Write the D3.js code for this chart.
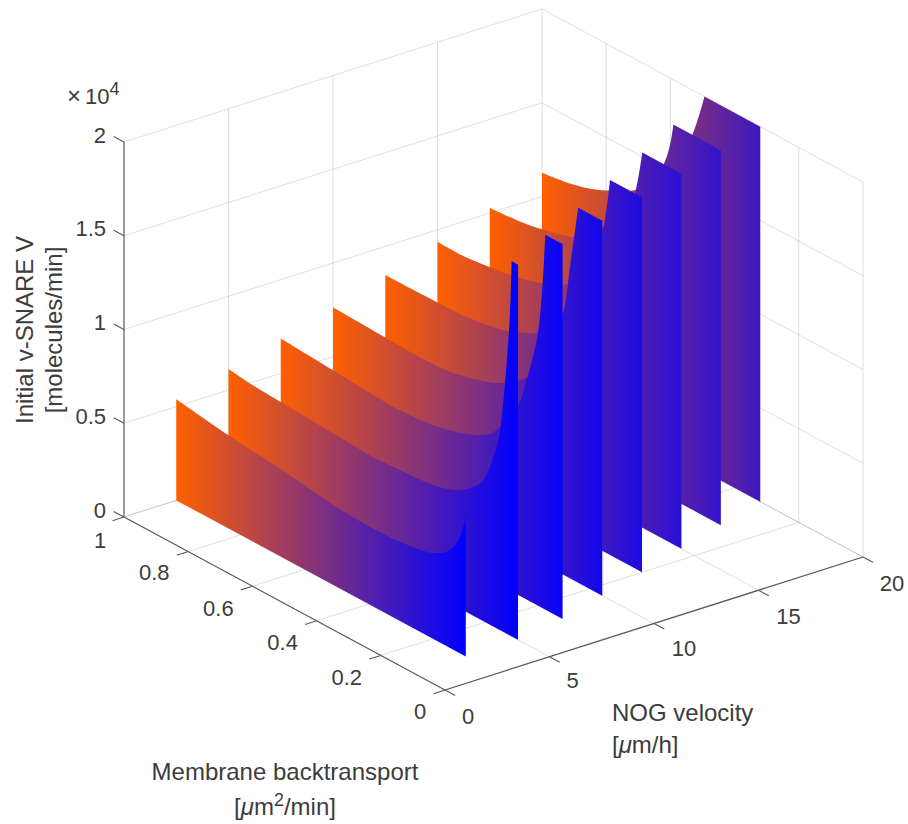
<!DOCTYPE html>
<html>
<head>
<meta charset="utf-8">
<style>html,body{margin:0;padding:0;background:#fff}svg{display:block}text{font-family:"Liberation Sans",Arial,sans-serif;fill:#3c3c3c}</style>
<script src="https://cdn.jsdelivr.net/npm/d3@7"></script>
</head>
<body>
<svg id="chart" width="908" height="824"></svg>
<script>
// NOG velocity of each sheet
const velocities = [2.5, 5, 7.5, 10, 12.5, 15, 17.5, 20];
// Membrane backtransport at each sample, per sheet
const membrane1 = [1, .838, .718, .6145, .511, .407, .303, .199, .147, .116, .098];
const membrane2 = [1, .933, .777, .6735, .5695, .466, .362, .2997, .2477, .206, .1645, .154, .1386, .123, .118];
const membrane3 = [1, .838, .722, .618, .514, .4104, .358, .327, .26, .234, .2026, .187, .176];
const membrane4 = [1, .838, .729, .625, .521, .469, .3916, .33, .2826, .2617, .236];
const membrane5 = [1, .838, .736, .632, .57, .528, .45, .38, .324, .3];
const membrane6 = [1, .9196, .8374, .769, .681, .608, .5, .43, .3825, .362];
const membrane7 = [1, .916, .837, .771, .7345, .6, .457, .428];
const membrane8 = [1, .913, .84, .788, .71, .6, .532, .494];
// Initial v-SNARE V (x 10^4), per sheet, cut at the axis limit
const vsnare1 = [.54, .498, .476, .454, .427, .416, .423, .459, .523, .622, .742];
const vsnare2 = [.612, .597, .581, .57, .559, .566, .582, .613, .67, .753, .969, 1.067, 1.33, 1.72, 2];
const vsnare3 = [.686, .667, .652, .646, .665, .718, .766, .819, 1.014, 1.171, 1.413, 1.659, 2];
const vsnare4 = [.764, .753, .746, .759, .809, .851, .955, 1.14, 1.394, 1.661, 2];
const vsnare5 = [.847, .851, .86, .894, .937, .975, 1.15, 1.38, 1.694, 2];
const vsnare6 = [.936, .934, .951, .969, 1.011, 1.067, 1.25, 1.5, 1.78, 2];
const vsnare7 = [1.029, 1.04, 1.064, 1.094, 1.119, 1.35, 1.766, 2];
const vsnare8 = [1.127, 1.15, 1.186, 1.227, 1.302, 1.5, 1.76, 2];
// Where each sheet ends on the membrane axis
const membraneEnd = [.098, .098, .122, .161, .2, .24, .28, .32];
const membraneSeries = [membrane1, membrane2, membrane3, membrane4, membrane5, membrane6, membrane7, membrane8];
const vsnareSeries = [vsnare1, vsnare2, vsnare3, vsnare4, vsnare5, vsnare6, vsnare7, vsnare8];
// Ticks
const xTicks = [0, 5, 10, 15, 20];
const yTicks = [0, .2, .4, .6, .8, 1];
const zTicks = [0, .5, 1, 1.5, 2];

const svg = d3.select("#chart");
const defs = svg.append("defs");

// Orthographic projection built from linear scales
const xToPx = d3.scaleLinear([0, 20], [0, 418]);
const xToPy = d3.scaleLinear([0, 20], [0, -133]);
const yToPx = d3.scaleLinear([0, 1], [0, -321]);
const yToPy = d3.scaleLinear([0, 1], [0, -173]);
const zToPy = d3.scaleLinear([0, 2], [0, -375]);
const X0 = 445, Y0 = 690;
const px = (x, y) => X0 + xToPx(x) + yToPx(y);
const py = (x, y, z) => Y0 + xToPy(x) + yToPy(y) + zToPy(z);

const grid = svg.append("g").attr("fill", "none").attr("stroke", "rgb(38,38,38)").attr("stroke-opacity", .15).attr("stroke-width", 1);
const seg = (g, a, b) => g.append("line")
  .attr("x1", px(a[0], a[1])).attr("y1", py(a[0], a[1], a[2]))
  .attr("x2", px(b[0], b[1])).attr("y2", py(b[0], b[1], b[2]));

xTicks.forEach(x => {
  seg(grid, [x, 0, 0], [x, 1, 0]);
  if (x > 0) seg(grid, [x, 1, 0], [x, 1, 2]);
});
yTicks.forEach(y => {
  seg(grid, [0, y, 0], [20, y, 0]);
  if (y < 1) seg(grid, [20, y, 0], [20, y, 2]);
});
zTicks.forEach(z => {
  seg(grid, [0, 1, z], [20, 1, z]);
  seg(grid, [20, 1, z], [20, 0, z]);
});

// Sheets, back to front
const curve = d3.line().x(d => d[0]).y(d => d[1]).curve(d3.curveCatmullRom.alpha(.5));
const sheets = svg.append("g");
d3.range(velocities.length - 1, -1, -1).forEach(i => {
  const X = velocities[i], ys = membraneSeries[i], zs = vsnareSeries[i], yEnd = membraneEnd[i];
  const gid = "grad" + i;
  const gr = defs.append("linearGradient").attr("id", gid).attr("gradientUnits", "userSpaceOnUse")
    .attr("x1", px(X, 1)).attr("y1", 0).attr("x2", px(X, .098)).attr("y2", 0);
  gr.append("stop").attr("offset", 0).attr("stop-color", "#ff6000");
  gr.append("stop").attr("offset", 1).attr("stop-color", "#0000ff");
  const top = ys.map((y, k) => [px(X, y), py(X, y, zs[k])]);
  let d = curve(top);
  const last = zs[zs.length - 1];
  d += "L" + px(X, yEnd) + "," + py(X, yEnd, last);
  d += "L" + px(X, yEnd) + "," + py(X, yEnd, 0);
  d += "L" + px(X, ys[0]) + "," + py(X, ys[0], 0) + "Z";
  sheets.append("path").attr("d", d).attr("fill", "url(#" + gid + ")");
});

// Axis lines
const axes = svg.append("g").attr("fill", "none");
const ax = axes.append("g").attr("stroke", "#5a5a5a").attr("stroke-width", 1.2);
seg(ax, [0, 0, 0], [20, 0, 0]);
seg(ax, [0, 0, 0], [0, 1, 0]);
const az = axes.append("g").attr("stroke", "#808080").attr("stroke-width", 1.6);
seg(az, [0, 1, 0], [0, 1, 2]);
const tk = axes.append("g").attr("stroke", "#5a5a5a").attr("stroke-width", 1.1);
xTicks.forEach(x => seg(tk, [x, 0, 0], [x, -.032, 0]));
yTicks.forEach(y => seg(tk, [0, y, 0], [-.55, y, 0]));
zTicks.forEach(z => seg(tk, [0, 1, z], [0, 1.032, z]));

// Tick labels
const labels = svg.append("g").attr("font-size", 22);
xTicks.forEach((x, i) => labels.append("text").text(x)
  .attr("x", px(x, 0) + [23, 23, 30, 30, 29][i]).attr("y", py(x, 0, 0) + [26, 24, 25, 26, 26][i])
  .attr("dy", ".35em").attr("text-anchor", "middle"));
yTicks.forEach((y, i) => labels.append("text").text(y)
  .attr("x", px(0, y) + [-25, -34, -34, -34, -34, -24][i]).attr("y", py(0, y, 0) + [21, 22, 21, 22, 21, 23][i])
  .attr("dy", ".35em").attr("text-anchor", "middle"));
zTicks.forEach(z => labels.append("text").text(z)
  .attr("x", px(0, 1) - 18).attr("y", py(0, 1, z) - 7)
  .attr("dy", ".35em").attr("text-anchor", "end"));

// Multiplier
svg.append("text").attr("x", 67).attr("y", 104).attr("font-size", 24).text("×");
const mult = svg.append("text").attr("x", 85).attr("y", 104).attr("font-size", 22);
mult.append("tspan").text("10");
mult.append("tspan").text("4").attr("font-size", 18).attr("dy", -9);

// Axis titles
const titles = svg.append("g").attr("font-size", 24);
const mu = s => s.append("tspan").text("μ").attr("font-style", "italic");
titles.append("text").attr("x", 612).attr("y", 721).text("NOG velocity");
const nog = titles.append("text").attr("x", 612).attr("y", 753);
nog.append("tspan").text("[");
mu(nog);
nog.append("tspan").text("m/h]");
titles.append("text").attr("x", 285).attr("y", 780).attr("text-anchor", "middle").text("Membrane backtransport");
const mem = titles.append("text").attr("x", 285).attr("y", 815).attr("text-anchor", "middle");
mem.append("tspan").text("[");
mu(mem);
mem.append("tspan").text("m");
mem.append("tspan").text("2").attr("font-size", 18).attr("dy", -9);
mem.append("tspan").text("/min]").attr("dy", 9);
titles.append("text").attr("transform", "translate(33,330) rotate(-90)").attr("text-anchor", "middle").text("Initial v-SNARE V");
titles.append("text").attr("transform", "translate(62,330) rotate(-90)").attr("text-anchor", "middle").text("[molecules/min]");
</script>
</body>
</html>
